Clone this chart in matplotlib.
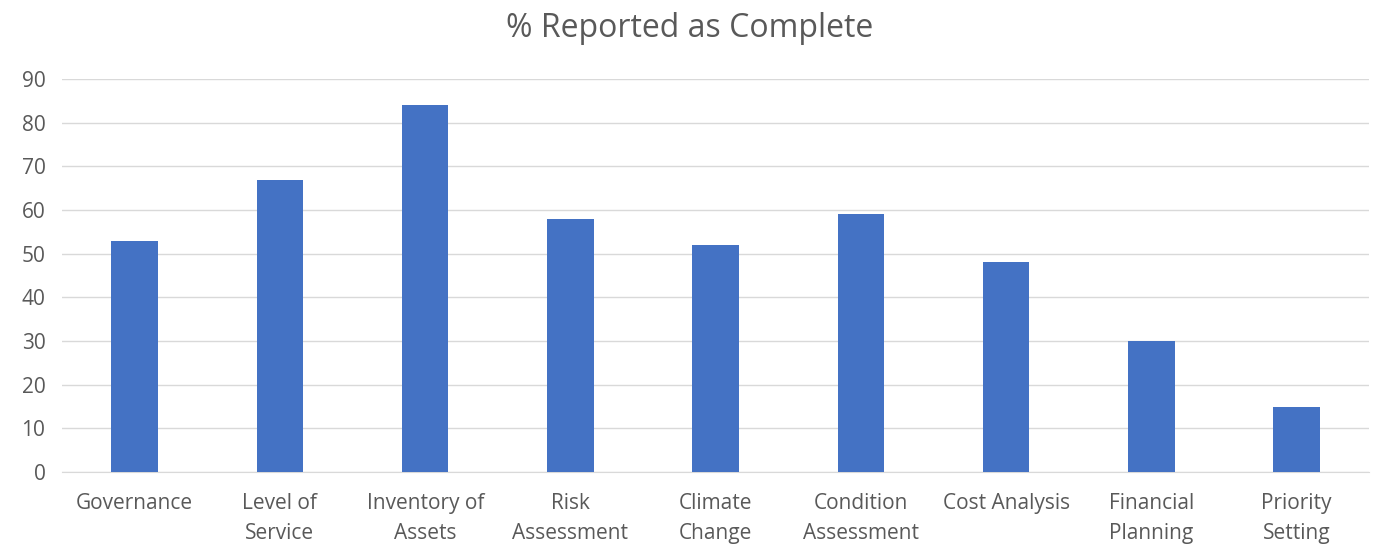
import matplotlib.pyplot as plt

categories = ["Governance", "Level of\nService", "Inventory of\nAssets", "Risk\nAssessment",
              "Climate\nChange", "Condition\nAssessment", "Cost Analysis",
              "Financial\nPlanning", "Priority\nSetting"]
values = [53, 67, 84, 58, 52, 59, 48, 30, 15]
yticks = [0, 10, 20, 30, 40, 50, 60, 70, 80, 90]

plt.rcParams['font.family'] = ['Open Sans', 'DejaVu Sans']
text_color = "#595959"

fig = plt.figure(figsize=(13.79, 5.46), dpi=100)
ax = fig.add_axes([0.045, 0.1355, 0.948, 0.7195])

x = range(len(categories))
ax.bar(x, values, width=0.32, color="#4472C4", zorder=3)

ax.set_xlim(-0.5, len(categories) - 0.5)
ax.set_ylim(0, 90)
ax.set_yticks(yticks)
ax.set_xticks(list(x))
ax.set_xticklabels(categories, linespacing=1.55)
ax.yaxis.grid(True, color="#D9D9D9", linewidth=1, zorder=0)
ax.tick_params(axis="both", length=0, labelsize=15, colors=text_color)
ax.tick_params(axis="x", pad=15)
ax.tick_params(axis="y", pad=12)
for s in ["top", "right", "left"]:
    ax.spines[s].set_visible(False)
ax.spines["bottom"].set_color("#D9D9D9")

fig.suptitle("% Reported as Complete", fontsize=23, color=text_color, y=0.978)

fig.savefig("out.png", dpi=100)
